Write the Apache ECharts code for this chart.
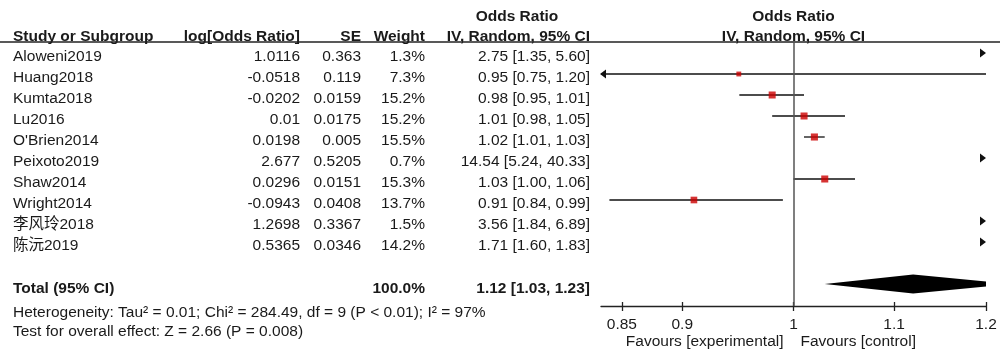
<!DOCTYPE html>
<html><head><meta charset="utf-8">
<script src="https://cdn.jsdelivr.net/npm/echarts@6/dist/echarts.min.js"></script>
<style>html,body{margin:0;padding:0;background:#fff}#c{width:1000px;height:359px}</style>
</head><body><div id="c"></div>
<script>
// ---- data ----
const studies = ['Aloweni2019','Huang2018','Kumta2018','Lu2016',"O'Brien2014",'Peixoto2019','Shaw2014','Wright2014','李风玲2018','陈沅2019'];
const logORText = ['1.0116','-0.0518','-0.0202','0.01','0.0198','2.677','0.0296','-0.0943','1.2698','0.5365'];
const seText = ['0.363','0.119','0.0159','0.0175','0.005','0.5205','0.0151','0.0408','0.3367','0.0346'];
const weights = [1.3,7.3,15.2,15.2,15.5,0.7,15.3,13.7,1.5,14.2];
const orEst = [2.75,0.95,0.98,1.01,1.02,14.54,1.03,0.91,3.56,1.71];
const ciLow = [1.35,0.75,0.95,0.98,1.01,5.24,1.00,0.84,1.84,1.60];
const ciHigh = [5.60,1.20,1.01,1.05,1.03,40.33,1.06,0.99,6.89,1.83];
const totalOR = [1.12, 1.03, 1.23];
const totalWeight = '100.0%';
const tickValues = [0.85, 0.9, 1, 1.1, 1.2];
const axisLimit = 1.2;
const headers = ['Study or Subgroup','log[Odds Ratio]','SE','Weight','Odds Ratio','IV, Random, 95% CI'];
const heteroText = 'Heterogeneity: Tau² = 0.01; Chi² = 284.49, df = 9 (P < 0.01); I² = 97%';
const overallText = 'Test for overall effect: Z = 2.66 (P = 0.008)';
const favours = ['Favours [experimental]','Favours [control]'];

// ---- chart ----
const FONT = '"Liberation Sans", Arial, "Noto Sans CJK SC", sans-serif';
const FS = 15.5;
const TXT = '#1a1a1a';
const ln = Math.log;
const fmtOR = (lo, hi, est) => est.toFixed(2) + ' [' + lo.toFixed(2) + ', ' + hi.toFixed(2) + ']';
const totalRow = studies.length + 1;

const chart = echarts.init(document.getElementById('c'), null, {renderer: 'canvas'});

const ciData = studies.map((s, i) => [i, ln(ciLow[i]), ln(ciHigh[i])]);
const sqData = [];
studies.forEach((s, i) => {
  const v = parseFloat(logORText[i]);
  if (v >= -ln(axisLimit) && v <= ln(axisLimit)) sqData.push([v, i, weights[i]]);
});

const option = {
  animation: false,
  backgroundColor: '#fff',
  grid: {left: 601, right: 14, top: 42, bottom: 53, containLabel: false, outerBoundsMode: 'none'},
  xAxis: [{
    type: 'value', min: -ln(axisLimit), max: ln(axisLimit), position: 'bottom',
    splitLine: {show: false},
    axisLine: {show: true, onZero: false, lineStyle: {color: '#222', width: 1.3}},
    axisTick: {show: true, inside: false, length: 5, customValues: tickValues.map(ln), lineStyle: {color: '#222', width: 1.3}},
    axisLabel: {show: true, margin: 11, customValues: tickValues.map(ln), fontFamily: FONT, fontSize: FS, color: TXT,
      formatter: v => String(parseFloat(Math.exp(v).toFixed(2)))}
  }, {
    type: 'value', min: -ln(axisLimit), max: ln(axisLimit), position: 'bottom',
    splitLine: {show: false},
    axisLine: {show: false, onZero: false},
    axisTick: {show: true, inside: true, length: 4, customValues: tickValues.map(ln), lineStyle: {color: '#222', width: 1.3}},
    axisLabel: {show: false}
  }],
  yAxis: {type: 'value', inverse: true, min: -11/21, max: 253/21, show: false,
    axisLine: {onZero: false}, splitLine: {show: false}},
  series: [{
    type: 'custom', name: 'ci', clip: false, z: 3,
    data: ciData,
    renderItem: function (params, api) {
      const row = api.value(0), lo = api.value(1), hi = api.value(2);
      const cs = params.coordSys;
      const xl = cs.x, xr = cs.x + cs.width;
      const pLo = api.coord([lo, row]), pHi = api.coord([hi, row]);
      const y = pLo[1];
      const children = [];
      const x1 = Math.max(pLo[0], xl), x2 = Math.min(pHi[0], xr);
      if (x2 > x1) {
        children.push({type: 'line', shape: {x1: x1, y1: y, x2: x2, y2: y}, style: {stroke: '#111', lineWidth: 1.3}});
      }
      if (pLo[0] < xl) {
        children.push({type: 'polygon', shape: {points: [[xl - 1, y], [xl + 5, y - 4.5], [xl + 5, y + 4.5]]}, style: {fill: '#111'}});
      }
      if (pHi[0] > xr) {
        children.push({type: 'polygon', shape: {points: [[xr, y], [xr - 6, y - 4.5], [xr - 6, y + 4.5]]}, style: {fill: '#111'}});
      }
      return {type: 'group', children: children};
    },
    markLine: {
      silent: true, symbol: ['none', 'none'], label: {show: false},
      lineStyle: {color: '#555', width: 1.5, type: 'solid'},
      data: [{xAxis: 0}]
    }
  }, {
    type: 'scatter', name: 'squares', z: 4,
    symbol: 'rect',
    symbolSize: d => 1.8 * Math.sqrt(d[2]),
    itemStyle: {color: '#cc0000'},
    data: sqData
  }, {
    type: 'custom', name: 'diamond', clip: true, z: 3,
    data: [[totalRow, ln(totalOR[1]), ln(totalOR[0]), ln(totalOR[2])]],
    renderItem: function (params, api) {
      const row = api.value(0);
      const a = api.coord([api.value(1), row]);
      const b = api.coord([api.value(2), row]);
      const c = api.coord([api.value(3), row]);
      const y = a[1], h = 9.5;
      return {type: 'polygon', shape: {points: [[a[0], y], [b[0], y - h], [c[0], y], [b[0], y + h]]}, style: {fill: '#000'}};
    }
  }]
};
chart.setOption(option);

// ---- table text ----
const TOFF = 3.5;
const rowY = i => chart.convertToPixel({yAxisIndex: 0}, i) + TOFF;
const xOne = chart.convertToPixel({xAxisIndex: 0}, 0);
const g = [];
function t(text, x, y, align, bold) {
  g.push({type: 'text', x: x, y: y, silent: true,
    style: {text: text, x: 0, y: 0, align: align, verticalAlign: 'middle', fill: TXT,
      font: (bold ? 'bold ' : '') + FS + 'px ' + FONT}});
}
const colX = {name: 13, lor: 300, se: 361, w: 425, or: 590};
const hY = 37;
t(headers[0], colX.name, hY, 'left', true);
t(headers[1], colX.lor, hY, 'right', true);
t(headers[2], colX.se, hY, 'right', true);
t(headers[3], colX.w, hY, 'right', true);
t(headers[4], 517, 17, 'center', true);
t(headers[5], colX.or, hY, 'right', true);
t(headers[4], xOne, 17, 'center', true);
t(headers[5], xOne, hY, 'center', true);
g.push({type: 'line', silent: true, shape: {x1: 0, y1: 42, x2: 1000, y2: 42}, style: {stroke: '#222', lineWidth: 1.3}});
studies.forEach((s, i) => {
  const y = rowY(i);
  t(s, colX.name, y, 'left', false);
  t(logORText[i], colX.lor, y, 'right', false);
  t(seText[i], colX.se, y, 'right', false);
  t(weights[i].toFixed(1) + '%', colX.w, y, 'right', false);
  t(fmtOR(ciLow[i], ciHigh[i], orEst[i]), colX.or, y, 'right', false);
});
const ty = rowY(totalRow) + 1.5;
t('Total (95% CI)', colX.name, ty, 'left', true);
t(totalWeight, colX.w, ty, 'right', true);
t(fmtOR(totalOR[1], totalOR[2], totalOR[0]), colX.or, ty, 'right', true);
t(heteroText, colX.name, 313, 'left', false);
t(overallText, colX.name, 332, 'left', false);
t(favours[0], xOne - 10, 342, 'right', false);
t(favours[1], xOne + 7, 342, 'left', false);
chart.setOption({graphic: {elements: g}});
</script>
</body></html>
